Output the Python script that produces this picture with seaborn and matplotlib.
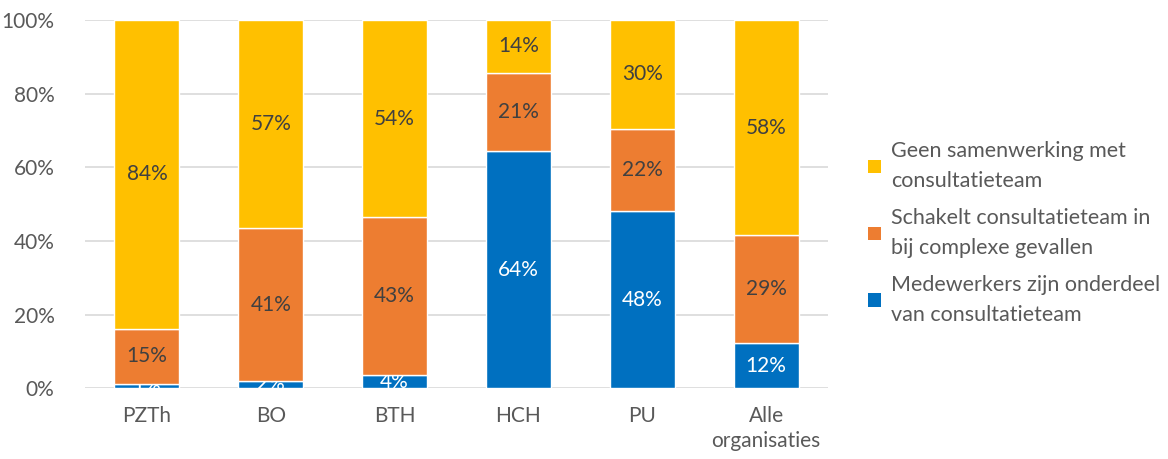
import matplotlib
matplotlib.use("Agg")
import matplotlib.pyplot as plt
import seaborn as sns
import numpy as np
from matplotlib.patches import Patch
from matplotlib.ticker import PercentFormatter

categories = ["PZTh", "BO", "BTH", "HCH", "PU", "Alle\norganisaties"]
medewerkers = [1.25, 2.1, 3.6, 64.3, 48.2, 12.2]
schakelt = [14.9, 41.3, 42.8, 21.4, 22.3, 29.4]
geen = [83.85, 56.6, 53.6, 14.3, 29.5, 58.4]
series_names = ["Medewerkers zijn onderdeel\nvan consultatieteam",
                "Schakelt consultatieteam in\nbij complexe gevallen",
                "Geen samenwerking met\nconsultatieteam"]
colors = ["#0070C0", "#ED7D31", "#FFC000"]
label_colors = ["white", "#404040", "#404040"]

sns.set_style("white")
plt.rcParams['font.family'] = ['Lato', 'DejaVu Sans']
FS = 15

fig = plt.figure(figsize=(11.68, 4.59), dpi=100)
ax = fig.add_axes([85/1168, 1 - 388.3/459, (828-85)/1168, (388.3-20)/459])

series = [medewerkers, schakelt, geen]
bottom = np.zeros(len(categories))
for vals, col, lc in zip(series, colors, label_colors):
    vals = np.array(vals)
    sns.barplot(x=categories, y=vals, bottom=bottom, color=col, width=0.524,
                ax=ax, saturation=1, zorder=3)
    cont = ax.containers[-1]
    texts = ax.bar_label(cont, labels=[f"{int(np.floor(v + 0.5)):d}%" for v in vals],
                         label_type="center", color=lc, fontsize=FS)
    for t in texts:
        t.set_clip_on(True)
    bottom = bottom + vals

ax.set_ylim(0, 100)
ax.set_xlim(-0.5, 5.5)
ax.set_yticks(np.arange(0, 101, 20))
ax.yaxis.set_major_formatter(PercentFormatter(decimals=0))
ax.grid(axis="y", color="#D9D9D9", linewidth=1.2, zorder=0)
ax.set_axisbelow(True)
for s in ax.spines.values():
    s.set_visible(False)
ax.tick_params(axis="both", length=0, labelsize=FS, colors="#595959")
ax.tick_params(axis="x", pad=13)
ax.tick_params(axis="y", pad=22)
for t in ax.get_xticklabels():
    t.set_linespacing(1.3)
ax.set_xlabel("")
ax.set_ylabel("")

handles = [Patch(facecolor=c, edgecolor="none") for c in colors]
leg = fig.legend(handles[::-1], series_names[::-1], loc="upper left",
                 bbox_to_anchor=(849/1168, 1 - 122/459), frameon=False,
                 fontsize=15.5, handlelength=0.6, handleheight=0.6,
                 handletextpad=0.45, labelspacing=0.8, labelcolor="#595959")
for t in leg.get_texts():
    t.set_linespacing(1.6)

fig.savefig("out.png", dpi=100)
